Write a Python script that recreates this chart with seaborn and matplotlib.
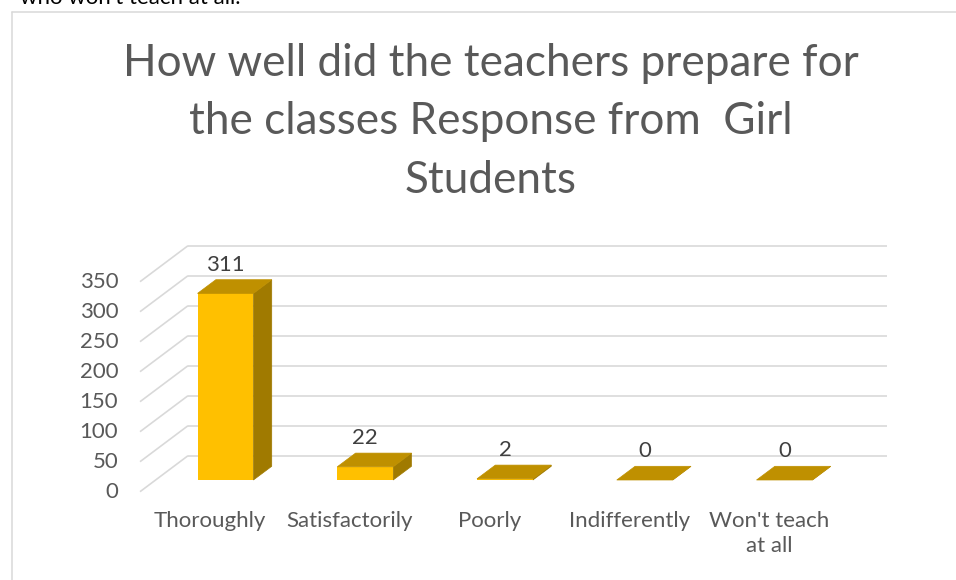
import matplotlib
matplotlib.use("Agg")
import matplotlib.pyplot as plt
import seaborn as sns
import numpy as np
from matplotlib.patches import Polygon
from matplotlib.lines import Line2D

# ---- data ----
categories = ["Thoroughly", "Satisfactorily", "Poorly", "Indifferently", "Won't teach at all"]
category_labels = ["Thoroughly", "Satisfactorily", "Poorly", "Indifferently", "Won't teach\nat all"]
values = [311, 22, 2, 0, 0]
y_ticks = [0, 50, 100, 150, 200, 250, 300, 350]
title = "How well did the teachers prepare for\nthe classes Response from  Girl\nStudents"

sns.set_style("white")
plt.rcParams["font.family"] = ["Lato", "DejaVu Sans"]

W, H = 956, 580
fig = plt.figure(figsize=(W / 100, H / 100), dpi=100)
fig.patch.set_facecolor("white")

# axes = the bars' front plane
ax_left_px, ax_bottom_px, ax_w_px, ax_h_px = 155.6, 100, 698.75, 210
ax = fig.add_axes([ax_left_px / W, ax_bottom_px / H, ax_w_px / W, ax_h_px / H])

FRONT = "#FFC000"
TOP = "#BF9000"
SIDE = "#A07A00"
GRID = "#D9D9D9"
TXT = "#595959"

sns.barplot(x=categories, y=values, color=FRONT, saturation=1, width=0.4,
            ax=ax, zorder=3, linewidth=0)
ax.set_xlim(-0.5, 4.5)
ax.set_ylim(0, 350)
ax.axis("off")

sx = ax_w_px / 5.0      # px per x unit
sy = ax_h_px / 350.0    # px per y unit

def d(px_x, px_y):
    return px_x / sx, px_y / sy

# depth offsets (pixels -> data)
bx, by = d(18.3, 13.7)       # bar depth
fx, fy = d(-15.6, -11.7)     # front plane of the floor
wx, wy = d(32.4, 24.3)       # back wall

# gridlines: back wall + left side wall
for v in y_ticks:
    ax.plot([-0.5 + wx, 4.5 + wx], [v + wy, v + wy], color=GRID, lw=1.2,
            clip_on=False, zorder=1, solid_capstyle="butt")
    ax.plot([-0.5 + fx, -0.5 + wx], [v + fy, v + wy], color=GRID, lw=1.2,
            clip_on=False, zorder=1, solid_capstyle="butt")

# tick labels on front plane
for v in y_ticks:
    ax.text(-0.5 + fx - 21.7 / sx, v + fy, str(v), ha="right", va="center",
            fontsize=16, color=TXT, clip_on=False)

# 3D faces for bars
for p in ax.patches:
    x0, w, h = p.get_x(), p.get_width(), p.get_height()
    p.set_clip_on(False)
    top = Polygon([(x0, h), (x0 + w, h), (x0 + w + bx, h + by), (x0 + bx, h + by)],
                  closed=True, facecolor=TOP, edgecolor=TOP, lw=0.5, zorder=4, clip_on=False)
    side = Polygon([(x0 + w, 0), (x0 + w + bx, by), (x0 + w + bx, h + by), (x0 + w, h)],
                   closed=True, facecolor=SIDE, edgecolor=SIDE, lw=0.5, zorder=2.5, clip_on=False)
    ax.add_patch(side)
    ax.add_patch(top)

# data labels
for i, v in enumerate(values):
    ax.text(i, v + by + 5 / sy, str(v), ha="center", va="bottom", fontsize=16,
            color="#404040", clip_on=False, zorder=5)

# category labels on front plane
for i, lab in enumerate(category_labels):
    ax.text(i + fx, fy - 19 / sy, lab, ha="center", va="top", fontsize=16,
            color=TXT, clip_on=False, linespacing=1.3)

# title
fig.text(491 / W, 1 - 122 / H, title, ha="center", va="center", fontsize=31.8,
         color=TXT, linespacing=1.52)

# chart border (only top and left visible)
fig.add_artist(Line2D([11.5 / W, 11.5 / W], [0, 1 - 11.5 / H], color=GRID, lw=1.1,
                      transform=fig.transFigure))
fig.add_artist(Line2D([11.5 / W, 1], [1 - 11.5 / H, 1 - 11.5 / H], color=GRID, lw=1.1,
                      transform=fig.transFigure))

# cut-off document text at very top (as in the reference)
fig.text(240 / W, 1 - 4 / H, "who won't teach at all.", ha="right", va="baseline",
         fontsize=16, color="black")

fig.savefig("out.png", dpi=100)
